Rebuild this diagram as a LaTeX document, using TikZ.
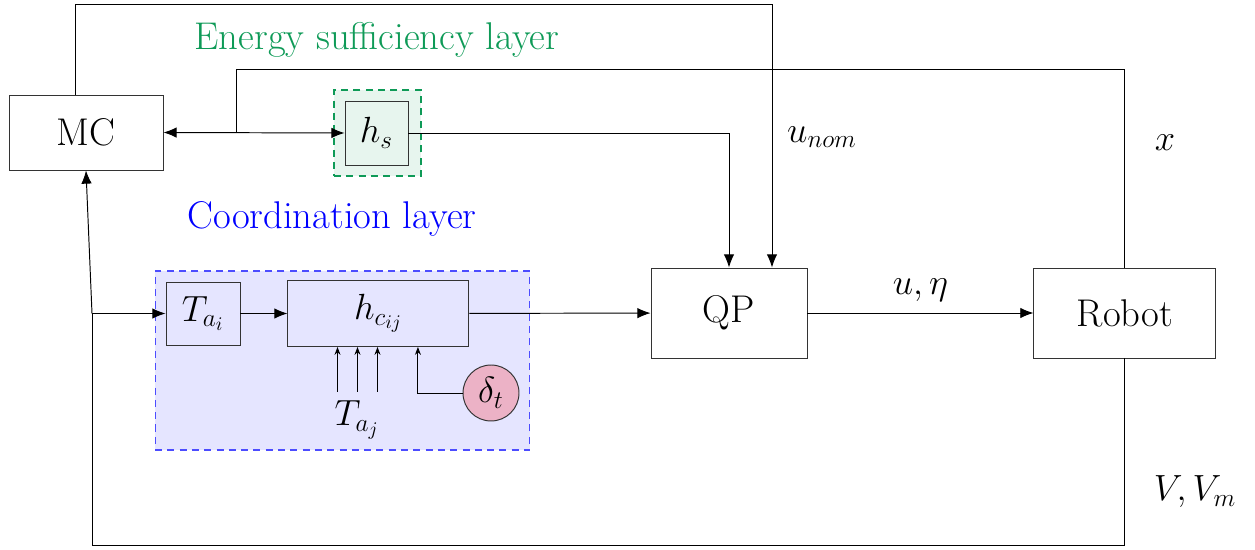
\documentclass[tikz,border=0pt]{standalone}
\usepackage{tikz}
\usetikzlibrary{positioning,arrows.meta}
\definecolor{egreen}{HTML}{0E9A57}

\begin{document}
\begin{tikzpicture}[x=0.02cm,y=-0.02cm,font=\fontsize{22}{26}\selectfont,
 blk/.style={draw=black!80,line width=0.55pt,align=center,inner sep=0pt},
 arr/.style={-{Latex[length=7.5pt,width=6pt]},line width=0.55pt},
 sarr/.style={-{Stealth[length=4.5pt,width=3.4pt]},line width=0.55pt},
 frame/.style={dashed,line width=0.6pt,dash pattern=on 4pt off 3pt}]
\useasboundingbox (0,0) rectangle (1255,550);
% layer frames
\node[frame,draw=egreen,fill=egreen!10,minimum width=17.4mm,minimum height=17.2mm] (eframe) at (377.5,133) {};
\node[frame,draw=blue!70,fill=blue!10,minimum width=75mm,minimum height=35.8mm] (cframe) at (342.5,360.5) {};
\node[text=egreen] (elabel) at (377,40) {Energy sufficiency layer};
\node[text=blue] (clabel) at (332,219) {Coordination layer};
% blocks
\node[blk,minimum width=30.8mm,minimum height=15mm] (mc) at (86,132.5) {MC};
\node[blk,fill=egreen!10,minimum width=12.6mm,minimum height=12.8mm] (hs) at (376.5,133) {$h_s$};
\node[blk,minimum width=31.2mm,minimum height=18mm] (qp) at (729,313) {QP};
\node[blk,right=45.2mm of qp,minimum width=36.4mm,minimum height=18mm] (robot) {Robot};
\node[blk,fill=blue!10,minimum width=14.8mm,minimum height=12.6mm] (tai) at (203,313.5) {$T_{a_i}$};
\node[blk,fill=blue!10,right=9.4mm of tai,minimum width=36.2mm,minimum height=13.2mm] (hc) {$h_{c_{ij}}$};
\node[blk,circle,fill=purple!30,minimum size=11.2mm] (delta) at (491,393) {$\delta_t$};
\node (taj) at (357,420) {$T_{a_j}$};
% signal labels
\node (unom) at (822,137) {$u_{nom}$};
\node (xlab) at (1165,143) {$x$};
\node (vlab) at (1195,492) {$V,V_m$};
% helper points
\coordinate (top) at (0,4);
\coordinate (xtop) at (0,69);
\coordinate (bot) at (0,545);
\coordinate (split) at (236,133);
\coordinate (fb) at (92,313.5);
\coordinate (tj) at (357.5,392);
\coordinate (qpin) at ([xshift=8.6mm]qp.north);
% connectors
\draw[arr] ([xshift=-2.2mm]mc.north) |- (qpin |- top) -- (qpin);
\draw[{Latex[length=7.5pt,width=6pt]}-{Latex[length=7.5pt,width=6pt]},line width=0.55pt] (mc.east) -- (hs.west);
\draw[line width=0.55pt] (split) |- (robot.north |- xtop) -- (robot.north);
\draw[arr] (hs.east) -| (qp.north);
\draw[arr] (qp) -- node[above=1mm] {$u,\eta$} (robot);
\draw[line width=0.55pt] (robot.south) |- (fb |- bot) -- (fb);
\draw[arr] (fb) -- (mc.south);
\draw[arr] (fb) -- (tai.west);
\draw[arr] (tai) -- (hc);
\draw[arr] (hc) -- (qp);
\foreach \dx in {-4mm,0mm,4mm}
  \draw[sarr] ([xshift=\dx]tj) -- ([xshift=\dx]tj |- hc.south);
\draw[sarr] (delta.west) -| ([xshift=7.9mm]hc.south);
\end{tikzpicture}
\end{document}
